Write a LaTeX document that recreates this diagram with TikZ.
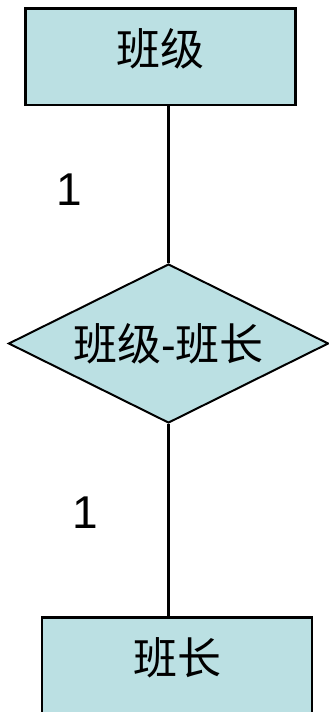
\documentclass[tikz,border=0pt]{standalone}
\usepackage{fontspec}
\usepackage{xcolor}
\usetikzlibrary{shapes.geometric,positioning}
\newfontfamily\cjkfont{Noto Sans CJK SC}
\newfontfamily\arialfont{Liberation Sans}
\definecolor{erFill}{RGB}{187,224,227}
\definecolor{erLine}{RGB}{0,0,0}
\tikzset{
  entityBox/.style={draw=erLine,fill=erFill,line width=2.5pt,inner sep=0pt,
    minimum width=270pt,minimum height=96.5pt,text height=30pt,text depth=12.6pt,
    font=\cjkfont\fontsize{44}{48}\selectfont},
  relDiamond/.style={diamond,draw=erLine,fill=erFill,line width=2pt,inner sep=0pt,
    aspect=2,minimum width=320pt,minimum height=159pt,
    font=\cjkfont\fontsize{44}{48}\selectfont},
  cardLabel/.style={inner sep=0pt,font=\arialfont\fontsize{46}{50}\selectfont},
  erLink/.style={draw=erLine,line width=2.3pt}
}

\begin{document}
\begin{tikzpicture}[x=1pt,y=-1pt]
\useasboundingbox (0,0) rectangle (329,712);
\clip (0,0) rectangle (329,712);
% entities and the relationship
\node[entityBox] (banji) at (160.5,56.5) {班级};
\node[relDiamond] (banjiBanzhang) at (168.5,343.5) {班级{\arialfont -}班长};
\node[entityBox] (banzhang) at (177,665.5) {班长};
% links with cardinalities
\draw[erLink] (banjiBanzhang.north |- banji.south) -- (banjiBanzhang.north)
  node[cardLabel,pos=0.53,left=85pt] (cardTop) {1};
\draw[erLink] (banjiBanzhang.south) -- (banjiBanzhang.south |- banzhang.north)
  node[cardLabel,pos=0.46,left=69pt] (cardBottom) {1};
\end{tikzpicture}
\end{document}
